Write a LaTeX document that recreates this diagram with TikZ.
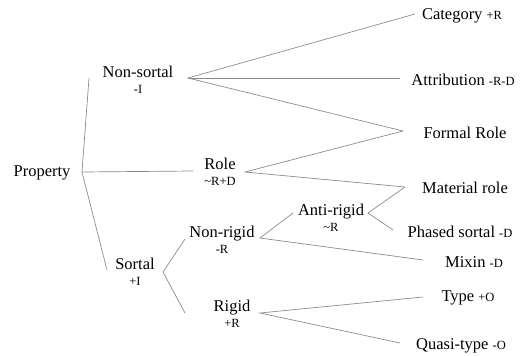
\documentclass[tikz,border=0pt]{standalone}
\usepackage{fontspec}
\setmainfont{Liberation Serif}
\newcommand{\mk}[1]{{\fontsize{12.5}{16}\selectfont #1}}
\begin{document}
\begin{tikzpicture}[x=1pt, y=-1pt,
		kind/.style={inner sep=0pt, align=center, font=\rmfamily\fontsize{16.5}{18}\selectfont},
		branch/.style={draw=black!45, line width=0.7pt}]
		\useasboundingbox (0,0) rectangle (522,356);
		% categories
		\node [kind] (prop) at (42,173) {Property};
		\node [kind] (nonsortal) at (138,80) {Non-sortal\\[-2pt]\mk{-I}};
		\node [kind] (role) at (220,172) {Role\\[-2pt]\mk{\textasciitilde R+D}};
		\node [kind] (sortal) at (135,272) {Sortal\\[-2pt]\mk{+I}};
		\node [kind] (nonrigid) at (222,240) {Non-rigid\\[-2pt]\mk{-R}};
		\node [kind] (rigid) at (232,314) {Rigid\\[-2pt]\mk{+R}};
		\node [kind] (antirigid) at (331,218) {Anti-rigid\\[-2pt]\mk{\textasciitilde R}};
		% leaves
		\node [kind] (category) at (462,16) {Category \mk{+R}};
		\node [kind] (attribution) at (463,80) {Attribution \mk{-R-D}};
		\node [kind] (formal) at (465,133) {Formal Role};
		\node [kind] (material) at (465,188) {Material role};
		\node [kind] (phased) at (460,232) {Phased sortal \mk{-D}};
		\node [kind] (mixin) at (474,262) {Mixin \mk{-D}};
		\node [kind] (type) at (468,298) {Type \mk{+O}};
		\node [kind] (quasi) at (461,346) {Quasi-type \mk{-O}};

		% branch points
		\coordinate (prop-out) at (82,172);
		\coordinate (nonsortal-in) at (89,78);
		\coordinate (nonsortal-out) at (188,78);
		\coordinate (role-in) at (193,171);
		\coordinate (role-out) at (245,172);
		\coordinate (sortal-in) at (107,270);
		\coordinate (sortal-out) at (163,272);
		\coordinate (nonrigid-in) at (185,239);
		\coordinate (nonrigid-out) at (260,238);
		\coordinate (rigid-in) at (185,313);
		\coordinate (rigid-out) at (260,313);
		\coordinate (antirigid-in) at (293,213);
		\coordinate (antirigid-out) at (368,213);
		\coordinate (category-in) at (415,14);
		\coordinate (attribution-in) at (400,78);
		\coordinate (formal-in) at (403,131);
		\coordinate (material-in) at (405,187);
		\coordinate (phased-in) at (393,230);
		\coordinate (mixin-in) at (423,260);
		\coordinate (type-in) at (423,297);
		\coordinate (quasi-in) at (400,343);

		\draw [branch] (nonsortal-in) -- (prop-out) -- (sortal-in);
		\draw [branch] (prop-out) -- (role-in);
		\draw [branch] (category-in) -- (nonsortal-out) -- (formal-in);
		\draw [branch] (nonsortal-out) -- (attribution-in);
		\draw [branch] (formal-in) -- (role-out) -- (material-in);
		\draw [branch] (nonrigid-in) -- (sortal-out) -- (rigid-in);
		\draw [branch] (antirigid-in) -- (nonrigid-out) -- (mixin-in);
		\draw [branch] (material-in) -- (antirigid-out) -- (phased-in);
		\draw [branch] (type-in) -- (rigid-out) -- (quasi-in);
	\end{tikzpicture}
\end{document}
